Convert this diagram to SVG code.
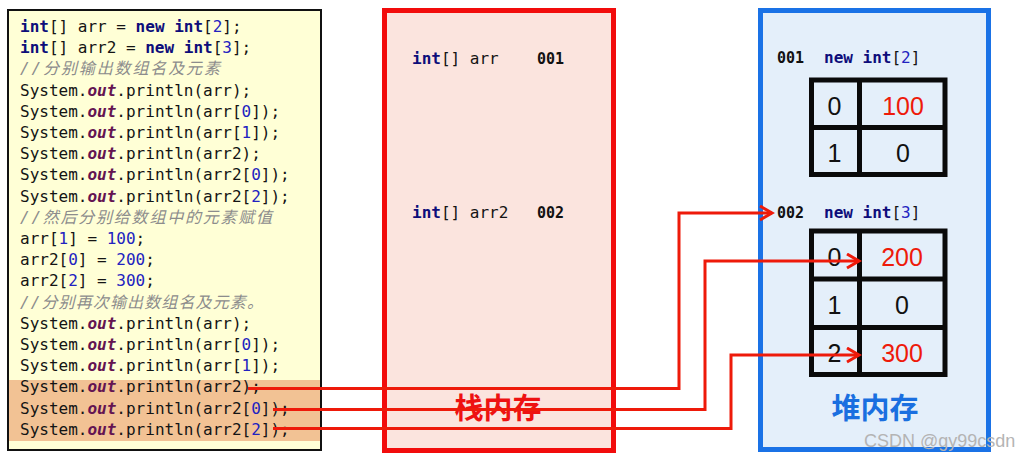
<svg xmlns="http://www.w3.org/2000/svg" width="1034" height="461" viewBox="0 0 1034 461">
<style>
.code{font-family:"DejaVu Sans Mono","Liberation Mono",monospace;font-size:16px;fill:#141414}
.kw{font-weight:bold;fill:#0d0d7a}
.num{fill:#2222c0}
.out{font-weight:bold;font-style:italic;fill:#641452}
.cm{font-family:"DejaVu Sans Mono","Noto Sans CJK SC",monospace;font-style:italic;fill:#8c8c8c;font-size:16px}
.addr{font-family:"DejaVu Sans Mono","Liberation Mono",monospace;font-size:15px;font-weight:bold;fill:#111}
.cell{fill:none;stroke:#0a0a0a;stroke-width:5}
.val{font-family:"Liberation Sans","Noto Sans",sans-serif;font-size:25px;text-anchor:middle;fill:#111}
.red{fill:#ee1a0a}
.conn{fill:none;stroke:#ee1a0a;stroke-width:3}
.title{font-family:"Noto Sans CJK SC",sans-serif;font-size:29px;font-weight:bold;text-anchor:middle}
</style>
<defs>
<marker id="arr" markerUnits="userSpaceOnUse" markerWidth="16" markerHeight="18" refX="13" refY="8" orient="auto">
<path d="M1,1 L13,8 L1,15" fill="none" stroke="#ee1a0a" stroke-width="3"/>
</marker>
</defs>

<g id="code-panel">
<rect x="8" y="10" width="313" height="440" fill="#ffffd6" stroke="#111" stroke-width="2"/>
<rect x="9" y="380" width="311" height="61" fill="#f2c294"/>
<text class="code" x="20" y="32"><tspan class="kw">int</tspan>[] arr = <tspan class="kw">new</tspan> <tspan class="kw">int</tspan>[<tspan class="num">2</tspan>];</text>
<text class="code" x="20" y="53.2"><tspan class="kw">int</tspan>[] arr2 = <tspan class="kw">new</tspan> <tspan class="kw">int</tspan>[<tspan class="num">3</tspan>];</text>
<text class="cm" x="20" y="74.4" textLength="200">//分别输出数组名及元素</text>
<text class="code" x="20" y="95.6">System.<tspan class="out">out</tspan>.println(arr);</text>
<text class="code" x="20" y="116.8">System.<tspan class="out">out</tspan>.println(arr[<tspan class="num">0</tspan>]);</text>
<text class="code" x="20" y="138">System.<tspan class="out">out</tspan>.println(arr[<tspan class="num">1</tspan>]);</text>
<text class="code" x="20" y="159.2">System.<tspan class="out">out</tspan>.println(arr2);</text>
<text class="code" x="20" y="180.4">System.<tspan class="out">out</tspan>.println(arr2[<tspan class="num">0</tspan>]);</text>
<text class="code" x="20" y="201.6">System.<tspan class="out">out</tspan>.println(arr2[<tspan class="num">2</tspan>]);</text>
<text class="cm" x="20" y="222.8" textLength="252">//然后分别给数组中的元素赋值</text>
<text class="code" x="20" y="244">arr[<tspan class="num">1</tspan>] = <tspan class="num">100</tspan>;</text>
<text class="code" x="20" y="265.2">arr2[<tspan class="num">0</tspan>] = <tspan class="num">200</tspan>;</text>
<text class="code" x="20" y="286.4">arr2[<tspan class="num">2</tspan>] = <tspan class="num">300</tspan>;</text>
<text class="cm" x="20" y="307.6" textLength="243">//分别再次输出数组名及元素。</text>
<text class="code" x="20" y="328.8">System.<tspan class="out">out</tspan>.println(arr);</text>
<text class="code" x="20" y="350">System.<tspan class="out">out</tspan>.println(arr[<tspan class="num">0</tspan>]);</text>
<text class="code" x="20" y="371.2">System.<tspan class="out">out</tspan>.println(arr[<tspan class="num">1</tspan>]);</text>
<text class="code" x="20" y="392.4">System.<tspan class="out">out</tspan>.println(arr2);</text>
<text class="code" x="20" y="413.6">System.<tspan class="out">out</tspan>.println(arr2[<tspan class="num">0</tspan>]);</text>
<text class="code" x="20" y="434.8">System.<tspan class="out">out</tspan>.println(arr2[<tspan class="num">2</tspan>]);</text>
</g>

<g id="stack">
<rect x="384.5" y="10.5" width="229" height="440" fill="#fbe4de" stroke="#f20c0c" stroke-width="5"/>
<text class="code" x="412" y="64"><tspan class="kw">int</tspan>[] arr</text>
<text class="addr" x="537" y="64">001</text>
<text class="code" x="412" y="218"><tspan class="kw">int</tspan>[] arr2</text>
<text class="addr" x="537" y="218">002</text>
<text class="title" x="498" y="419" fill="#ee1111">栈内存</text>
</g>

<g id="heap">
<rect x="760.5" y="10.5" width="228" height="439" fill="#e4effa" stroke="#1a72e6" stroke-width="5"/>
<text class="title" x="875" y="419" fill="#1a6fe0">堆内存</text>
</g>

<g id="array1">
<text class="addr" x="777" y="63">001</text>
<text class="code" x="824" y="63"><tspan class="kw">new</tspan> <tspan class="kw">int</tspan>[<tspan class="num">2</tspan>]</text>
<rect class="cell" x="811.5" y="80" width="133.5" height="94.5"/>
<line class="cell" x1="859.5" y1="80" x2="859.5" y2="174.5"/>
<line class="cell" x1="811.5" y1="127.5" x2="945" y2="127.5"/>
<text class="val" x="834.5" y="115">0</text>
<text class="val red" x="903" y="115">100</text>
<text class="val" x="834.5" y="162">1</text>
<text class="val" x="903" y="162">0</text>
</g>

<g id="array2">
<text class="addr" x="777" y="218">002</text>
<text class="code" x="824" y="218"><tspan class="kw">new</tspan> <tspan class="kw">int</tspan>[<tspan class="num">3</tspan>]</text>
<rect class="cell" x="811.5" y="231" width="133.5" height="143.5"/>
<line class="cell" x1="859.5" y1="231" x2="859.5" y2="374.5"/>
<line class="cell" x1="811.5" y1="279" x2="945" y2="279"/>
<line class="cell" x1="811.5" y1="327.5" x2="945" y2="327.5"/>
<text class="val" x="834.5" y="266">0</text>
<text class="val red" x="902" y="266">200</text>
<text class="val" x="834.5" y="314">1</text>
<text class="val" x="902" y="314">0</text>
<text class="val" x="834.5" y="362">2</text>
<text class="val red" x="902" y="362">300</text>
</g>

<g id="connectors">
<path class="conn" d="M248,388.5 H679 V213 H772" marker-end="url(#arr)"/>
<path class="conn" d="M273,409.5 H705 V261 H859" marker-end="url(#arr)"/>
<path class="conn" d="M273,428.5 H731 V355 H859" marker-end="url(#arr)"/>
</g>

<text x="864" y="447" font-family="Liberation Sans,sans-serif" font-size="18" fill="#b4b4b4">CSDN @gy99csdn</text>
</svg>
